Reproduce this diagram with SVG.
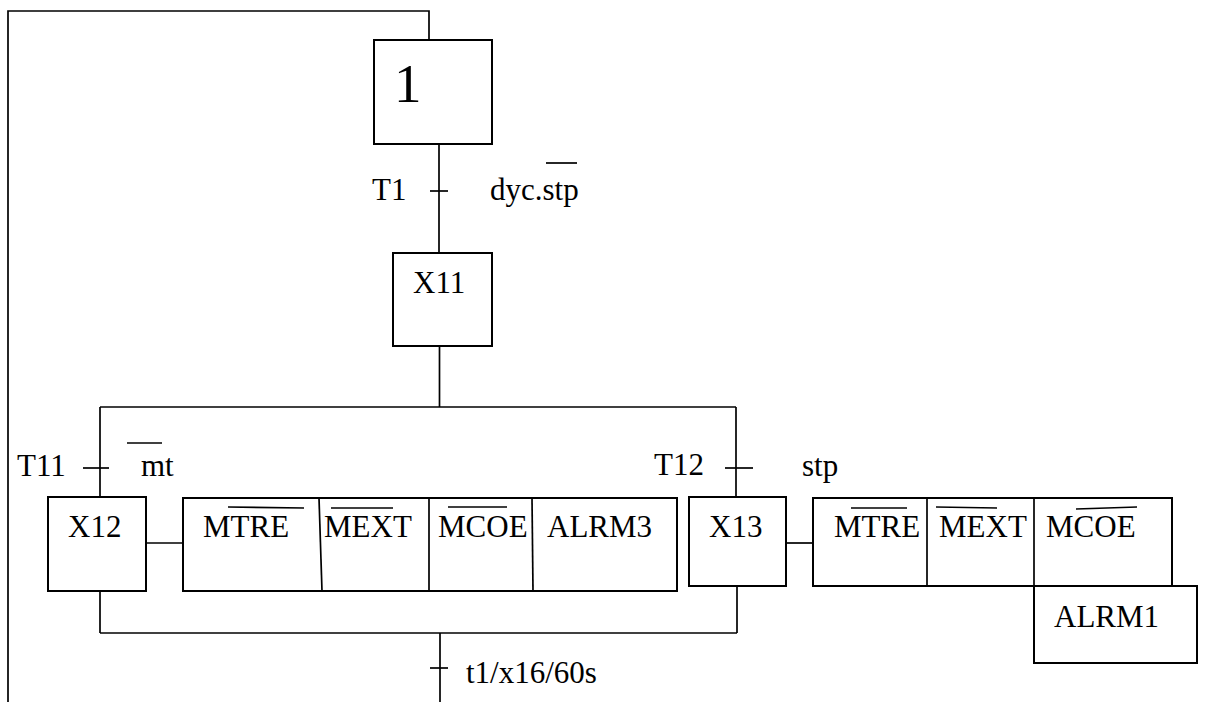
<svg xmlns="http://www.w3.org/2000/svg" width="1205" height="702" viewBox="0 0 1205 702">
<style>
  .box{fill:#fff;stroke:#000;stroke-width:2}
  .ln{fill:none;stroke:#000;stroke-width:1.7}
  .t{font-family:"Liberation Serif","Times New Roman",serif;font-size:31px;fill:#000}
  .ov{stroke:#000;stroke-width:1.7}
</style>
<rect width="1205" height="702" fill="#fff"/>
<g id="connectors">
  <polyline class="ln" points="8,702 8,11 429,11 429,40"/>
  <line class="ln" x1="439" y1="144" x2="439" y2="253"/>
  <line class="ln" x1="430" y1="191" x2="448" y2="191"/>
  <line class="ln" x1="439.5" y1="346" x2="439.5" y2="407"/>
  <line class="ln" x1="100" y1="407" x2="736" y2="407"/>
  <line class="ln" x1="100" y1="407" x2="100" y2="497"/>
  <line class="ln" x1="736" y1="407" x2="736" y2="497"/>
  <line class="ln" x1="83" y1="468" x2="109" y2="468"/>
  <line class="ln" x1="725" y1="468" x2="753" y2="468"/>
  <line class="ln" x1="146" y1="543" x2="183" y2="543"/>
  <line class="ln" x1="786" y1="543" x2="813" y2="543"/>
  <line class="ln" x1="100" y1="591" x2="100" y2="633"/>
  <line class="ln" x1="737" y1="586" x2="737" y2="633"/>
  <line class="ln" x1="100" y1="633" x2="737" y2="633"/>
  <line class="ln" x1="440" y1="633" x2="440" y2="702"/>
  <line class="ln" x1="430" y1="668" x2="448" y2="668"/>
</g>
<g id="step1">
  <rect class="box" x="374" y="40" width="118" height="104"/>
  <text class="t" x="394" y="102" style="font-size:55px">1</text>
</g>
<g id="T1">
  <text class="t" x="372" y="200">T1</text>
  <text class="t" x="490" y="200">dyc.stp</text>
  <line class="ov" x1="546" y1="163" x2="577" y2="163"/>
</g>
<g id="X11">
  <rect class="box" x="393" y="253" width="99" height="93"/>
  <text class="t" x="413" y="293">X11</text>
</g>
<g id="T11">
  <text class="t" x="17" y="476">T11</text>
  <text class="t" x="141" y="476">mt</text>
  <line class="ov" x1="127" y1="443" x2="162" y2="443"/>
</g>
<g id="T12">
  <text class="t" x="654" y="475">T12</text>
  <text class="t" x="802" y="476">stp</text>
</g>
<g id="X12">
  <rect class="box" x="48" y="497" width="98" height="94"/>
  <text class="t" x="68" y="537">X12</text>
</g>
<g id="actions12">
  <rect class="box" x="183" y="498" width="494" height="93"/>
  <line class="ln" x1="319" y1="498" x2="322" y2="591"/>
  <line class="ln" x1="429" y1="498" x2="429" y2="591"/>
  <line class="ln" x1="532" y1="498" x2="533" y2="591"/>
  <text class="t" x="203" y="537">MTRE</text>
  <line class="ov" x1="228" y1="507" x2="304" y2="508"/>
  <text class="t" x="324" y="537">MEXT</text>
  <line class="ov" x1="331" y1="508" x2="393" y2="508"/>
  <text class="t" x="438" y="537">MCOE</text>
  <line class="ov" x1="448" y1="507" x2="507" y2="507"/>
  <text class="t" x="547" y="537">ALRM3</text>
</g>
<g id="X13">
  <rect class="box" x="689" y="497" width="97" height="89"/>
  <text class="t" x="709" y="537">X13</text>
</g>
<g id="actions13">
  <rect class="box" x="813" y="498" width="359" height="88"/>
  <line class="ln" x1="927" y1="498" x2="927" y2="586"/>
  <line class="ln" x1="1034" y1="498" x2="1034" y2="586"/>
  <text class="t" x="834" y="537">MTRE</text>
  <line class="ov" x1="851" y1="508" x2="907" y2="508"/>
  <text class="t" x="939" y="537">MEXT</text>
  <line class="ov" x1="936" y1="507" x2="997" y2="508"/>
  <text class="t" x="1046" y="537">MCOE</text>
  <line class="ov" x1="1076" y1="509" x2="1137" y2="507"/>
</g>
<g id="ALRM1">
  <rect class="box" x="1034" y="586" width="163" height="77"/>
  <text class="t" x="1054" y="627">ALRM1</text>
</g>
<g id="T2">
  <text class="t" x="466" y="683">t1/x16/60s</text>
</g>
</svg>
